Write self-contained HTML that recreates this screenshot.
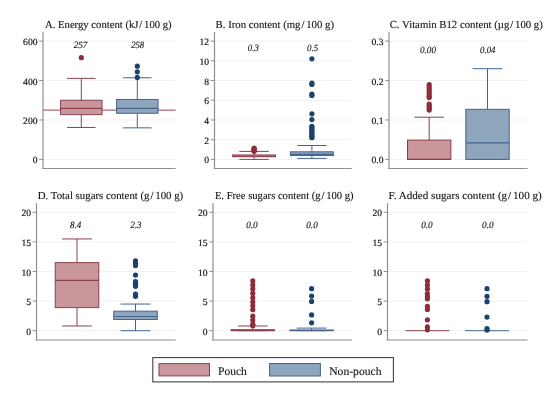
<!DOCTYPE html>
<html><head><meta charset="utf-8"><style>
html,body{margin:0;padding:0;background:#fff;}
svg{display:block;will-change:transform;}
text{text-rendering:geometricPrecision;font-family:"Liberation Serif",serif;fill:#141414;stroke:#141414;stroke-width:0.12px;}
.tt{font-size:10.8px;}
.tk{font-size:9.6px;stroke-width:0.18px;}
.ml{font-size:9.6px;font-style:italic;stroke-width:0.15px;}
.lg{font-size:11.6px;}
</style></head><body>
<svg width="550" height="394" viewBox="0 0 550 394">
<rect width="550" height="394" fill="#fff"/>
<g><line x1="43.5" y1="159.4" x2="175.6" y2="159.4" stroke="#f1f1f1" stroke-width="1"/>
<line x1="43.5" y1="119.97" x2="175.6" y2="119.97" stroke="#f1f1f1" stroke-width="1"/>
<line x1="43.5" y1="80.53" x2="175.6" y2="80.53" stroke="#f1f1f1" stroke-width="1"/>
<line x1="43.5" y1="41.1" x2="175.6" y2="41.1" stroke="#f1f1f1" stroke-width="1"/>
<line x1="43" y1="110.11" x2="175.6" y2="110.11" stroke="#ad6672" stroke-width="1.4"/>
<line x1="81.3" y1="78.36" x2="81.3" y2="100.25" stroke="#8a414f" stroke-width="1"/>
<line x1="81.3" y1="114.64" x2="81.3" y2="127.46" stroke="#8a414f" stroke-width="1"/>
<line x1="67.08" y1="78.36" x2="95.52" y2="78.36" stroke="#8a414f" stroke-width="1"/>
<line x1="67.08" y1="127.46" x2="95.52" y2="127.46" stroke="#8a414f" stroke-width="1"/>
<rect x="60.55" y="100.25" width="41.5" height="14.39" fill="#c9969c" stroke="#8a414f" stroke-width="1"/>
<line x1="60.55" y1="108.33" x2="102.05" y2="108.33" stroke="#8a414f" stroke-width="1.2"/>
<circle cx="81.3" cy="57.66" r="2.6" fill="#8e2d3a"/>
<line x1="137.3" y1="77.77" x2="137.3" y2="99.46" stroke="#46648a" stroke-width="1"/>
<line x1="137.3" y1="113.26" x2="137.3" y2="127.85" stroke="#46648a" stroke-width="1"/>
<line x1="123.08" y1="77.77" x2="151.52" y2="77.77" stroke="#46648a" stroke-width="1"/>
<line x1="123.08" y1="127.85" x2="151.52" y2="127.85" stroke="#46648a" stroke-width="1"/>
<rect x="116.55" y="99.46" width="41.5" height="13.8" fill="#8fa5bd" stroke="#46648a" stroke-width="1"/>
<line x1="116.55" y1="108.33" x2="158.05" y2="108.33" stroke="#46648a" stroke-width="1.2"/>
<circle cx="137.3" cy="77.38" r="2.6" fill="#1c426d"/>
<circle cx="137.3" cy="71.86" r="2.6" fill="#1c426d"/>
<circle cx="137.3" cy="66.14" r="2.6" fill="#1c426d"/>
<line x1="43" y1="32" x2="43" y2="169.1" stroke="#8e8e8e" stroke-width="1.2"/>
<line x1="42.4" y1="168.5" x2="175.6" y2="168.5" stroke="#8e8e8e" stroke-width="1.2"/>
<line x1="39.2" y1="159.4" x2="43" y2="159.4" stroke="#8e8e8e" stroke-width="1"/>
<text x="37.5" y="163.4" text-anchor="end" class="tk">0</text>
<line x1="39.2" y1="119.97" x2="43" y2="119.97" stroke="#8e8e8e" stroke-width="1"/>
<text x="37.5" y="123.97" text-anchor="end" class="tk">200</text>
<line x1="39.2" y1="80.53" x2="43" y2="80.53" stroke="#8e8e8e" stroke-width="1"/>
<text x="37.5" y="84.53" text-anchor="end" class="tk">400</text>
<line x1="39.2" y1="41.1" x2="43" y2="41.1" stroke="#8e8e8e" stroke-width="1"/>
<text x="37.5" y="45.1" text-anchor="end" class="tk">600</text>
<text x="45" y="27.6" textLength="126.6" lengthAdjust="spacingAndGlyphs" class="tt">A. Energy content (kJ / 100 g)</text>
<text x="73.65" y="48.1" textLength="13.7" lengthAdjust="spacingAndGlyphs" class="ml">257</text>
<text x="131.15" y="48.1" textLength="13.1" lengthAdjust="spacingAndGlyphs" class="ml">258</text></g>
<g><line x1="215" y1="159.4" x2="351.7" y2="159.4" stroke="#f1f1f1" stroke-width="1"/>
<line x1="215" y1="139.68" x2="351.7" y2="139.68" stroke="#f1f1f1" stroke-width="1"/>
<line x1="215" y1="119.97" x2="351.7" y2="119.97" stroke="#f1f1f1" stroke-width="1"/>
<line x1="215" y1="100.25" x2="351.7" y2="100.25" stroke="#f1f1f1" stroke-width="1"/>
<line x1="215" y1="80.53" x2="351.7" y2="80.53" stroke="#f1f1f1" stroke-width="1"/>
<line x1="215" y1="60.82" x2="351.7" y2="60.82" stroke="#f1f1f1" stroke-width="1"/>
<line x1="215" y1="41.1" x2="351.7" y2="41.1" stroke="#f1f1f1" stroke-width="1"/>
<line x1="254.1" y1="151.41" x2="254.1" y2="154.96" stroke="#8a414f" stroke-width="1"/>
<line x1="254.1" y1="156.74" x2="254.1" y2="159.4" stroke="#8a414f" stroke-width="1"/>
<line x1="239.39" y1="151.41" x2="268.81" y2="151.41" stroke="#8a414f" stroke-width="1"/>
<line x1="239.39" y1="159.4" x2="268.81" y2="159.4" stroke="#8a414f" stroke-width="1"/>
<rect x="232.63" y="154.96" width="42.94" height="1.77" fill="#c9969c" stroke="#8a414f" stroke-width="1"/>
<line x1="232.63" y1="156.25" x2="275.57" y2="156.25" stroke="#8a414f" stroke-width="1.2"/>
<circle cx="254.1" cy="151.32" r="2.6" fill="#8e2d3a"/>
<circle cx="254.1" cy="150.53" r="2.6" fill="#8e2d3a"/>
<circle cx="254.1" cy="149.54" r="2.6" fill="#8e2d3a"/>
<circle cx="254.1" cy="148.75" r="2.6" fill="#8e2d3a"/>
<circle cx="254.1" cy="148.06" r="2.6" fill="#8e2d3a"/>
<line x1="311.9" y1="145.5" x2="311.9" y2="151.81" stroke="#46648a" stroke-width="1"/>
<line x1="311.9" y1="155.56" x2="311.9" y2="158.41" stroke="#46648a" stroke-width="1"/>
<line x1="297.19" y1="145.5" x2="326.61" y2="145.5" stroke="#46648a" stroke-width="1"/>
<line x1="297.19" y1="158.41" x2="326.61" y2="158.41" stroke="#46648a" stroke-width="1"/>
<rect x="290.43" y="151.81" width="42.94" height="3.75" fill="#8fa5bd" stroke="#46648a" stroke-width="1"/>
<line x1="290.43" y1="154.47" x2="333.37" y2="154.47" stroke="#46648a" stroke-width="1.2"/>
<circle cx="311.9" cy="58.84" r="2.6" fill="#1c426d"/>
<circle cx="311.9" cy="83" r="2.6" fill="#1c426d"/>
<circle cx="311.9" cy="84.48" r="2.6" fill="#1c426d"/>
<circle cx="311.9" cy="94.14" r="2.6" fill="#1c426d"/>
<circle cx="311.9" cy="95.52" r="2.6" fill="#1c426d"/>
<circle cx="311.9" cy="113.85" r="2.6" fill="#1c426d"/>
<circle cx="311.9" cy="119.57" r="2.6" fill="#1c426d"/>
<circle cx="311.9" cy="126.37" r="2.6" fill="#1c426d"/>
<circle cx="311.9" cy="127.85" r="2.6" fill="#1c426d"/>
<circle cx="311.9" cy="129.33" r="2.6" fill="#1c426d"/>
<circle cx="311.9" cy="130.81" r="2.6" fill="#1c426d"/>
<circle cx="311.9" cy="132.29" r="2.6" fill="#1c426d"/>
<circle cx="311.9" cy="133.77" r="2.6" fill="#1c426d"/>
<circle cx="311.9" cy="135.25" r="2.6" fill="#1c426d"/>
<circle cx="311.9" cy="136.73" r="2.6" fill="#1c426d"/>
<circle cx="311.9" cy="137.71" r="2.6" fill="#1c426d"/>
<line x1="214.5" y1="32" x2="214.5" y2="169.1" stroke="#8e8e8e" stroke-width="1.2"/>
<line x1="213.9" y1="168.5" x2="351.7" y2="168.5" stroke="#8e8e8e" stroke-width="1.2"/>
<line x1="210.7" y1="159.4" x2="214.5" y2="159.4" stroke="#8e8e8e" stroke-width="1"/>
<text x="209" y="163.4" text-anchor="end" class="tk">0</text>
<line x1="210.7" y1="139.68" x2="214.5" y2="139.68" stroke="#8e8e8e" stroke-width="1"/>
<text x="209" y="143.68" text-anchor="end" class="tk">2</text>
<line x1="210.7" y1="119.97" x2="214.5" y2="119.97" stroke="#8e8e8e" stroke-width="1"/>
<text x="209" y="123.97" text-anchor="end" class="tk">4</text>
<line x1="210.7" y1="100.25" x2="214.5" y2="100.25" stroke="#8e8e8e" stroke-width="1"/>
<text x="209" y="104.25" text-anchor="end" class="tk">6</text>
<line x1="210.7" y1="80.53" x2="214.5" y2="80.53" stroke="#8e8e8e" stroke-width="1"/>
<text x="209" y="84.53" text-anchor="end" class="tk">8</text>
<line x1="210.7" y1="60.82" x2="214.5" y2="60.82" stroke="#8e8e8e" stroke-width="1"/>
<text x="209" y="64.82" text-anchor="end" class="tk">10</text>
<line x1="210.7" y1="41.1" x2="214.5" y2="41.1" stroke="#8e8e8e" stroke-width="1"/>
<text x="209" y="45.1" text-anchor="end" class="tk">12</text>
<text x="215.6" y="27.5" textLength="118.4" lengthAdjust="spacingAndGlyphs" class="tt">B. Iron content (mg / 100 g)</text>
<text x="247.85" y="50.5" textLength="10.9" lengthAdjust="spacingAndGlyphs" class="ml">0.3</text>
<text x="307.05" y="50.5" textLength="11.1" lengthAdjust="spacingAndGlyphs" class="ml">0.5</text></g>
<g><line x1="389.5" y1="159.4" x2="527.6" y2="159.4" stroke="#f1f1f1" stroke-width="1"/>
<line x1="389.5" y1="119.97" x2="527.6" y2="119.97" stroke="#f1f1f1" stroke-width="1"/>
<line x1="389.5" y1="80.53" x2="527.6" y2="80.53" stroke="#f1f1f1" stroke-width="1"/>
<line x1="389.5" y1="41.1" x2="527.6" y2="41.1" stroke="#f1f1f1" stroke-width="1"/>
<line x1="429.2" y1="117.21" x2="429.2" y2="140.08" stroke="#8a414f" stroke-width="1"/>
<line x1="429.2" y1="159.4" x2="429.2" y2="159.4" stroke="#8a414f" stroke-width="1"/>
<line x1="414.34" y1="117.21" x2="444.06" y2="117.21" stroke="#8a414f" stroke-width="1"/>
<line x1="414.34" y1="159.4" x2="444.06" y2="159.4" stroke="#8a414f" stroke-width="1"/>
<rect x="407.51" y="140.08" width="43.38" height="19.32" fill="#c9969c" stroke="#8a414f" stroke-width="1"/>
<line x1="407.51" y1="159.4" x2="450.89" y2="159.4" stroke="#8a414f" stroke-width="1.2"/>
<circle cx="429.2" cy="84.48" r="2.6" fill="#8e2d3a"/>
<circle cx="429.2" cy="86.84" r="2.6" fill="#8e2d3a"/>
<circle cx="429.2" cy="89.21" r="2.6" fill="#8e2d3a"/>
<circle cx="429.2" cy="91.57" r="2.6" fill="#8e2d3a"/>
<circle cx="429.2" cy="93.94" r="2.6" fill="#8e2d3a"/>
<circle cx="429.2" cy="96.31" r="2.6" fill="#8e2d3a"/>
<circle cx="429.2" cy="97.49" r="2.6" fill="#8e2d3a"/>
<circle cx="429.2" cy="104.19" r="2.6" fill="#8e2d3a"/>
<circle cx="429.2" cy="106.16" r="2.6" fill="#8e2d3a"/>
<circle cx="429.2" cy="108.14" r="2.6" fill="#8e2d3a"/>
<circle cx="429.2" cy="110.11" r="2.6" fill="#8e2d3a"/>
<line x1="487.5" y1="68.7" x2="487.5" y2="109.32" stroke="#46648a" stroke-width="1"/>
<line x1="487.5" y1="159.4" x2="487.5" y2="159.4" stroke="#46648a" stroke-width="1"/>
<line x1="472.64" y1="68.7" x2="502.36" y2="68.7" stroke="#46648a" stroke-width="1"/>
<line x1="472.64" y1="159.4" x2="502.36" y2="159.4" stroke="#46648a" stroke-width="1"/>
<rect x="465.81" y="109.32" width="43.38" height="50.08" fill="#8fa5bd" stroke="#46648a" stroke-width="1"/>
<line x1="465.81" y1="142.84" x2="509.19" y2="142.84" stroke="#46648a" stroke-width="1.2"/>
<line x1="389" y1="32" x2="389" y2="169.1" stroke="#8e8e8e" stroke-width="1.2"/>
<line x1="388.4" y1="168.5" x2="527.6" y2="168.5" stroke="#8e8e8e" stroke-width="1.2"/>
<line x1="385.2" y1="159.4" x2="389" y2="159.4" stroke="#8e8e8e" stroke-width="1"/>
<text x="383.5" y="163.4" text-anchor="end" class="tk">0.0</text>
<line x1="385.2" y1="119.97" x2="389" y2="119.97" stroke="#8e8e8e" stroke-width="1"/>
<text x="383.5" y="123.97" text-anchor="end" class="tk">0.1</text>
<line x1="385.2" y1="80.53" x2="389" y2="80.53" stroke="#8e8e8e" stroke-width="1"/>
<text x="383.5" y="84.53" text-anchor="end" class="tk">0.2</text>
<line x1="385.2" y1="41.1" x2="389" y2="41.1" stroke="#8e8e8e" stroke-width="1"/>
<text x="383.5" y="45.1" text-anchor="end" class="tk">0.3</text>
<text x="389.7" y="27.6" textLength="153.1" lengthAdjust="spacingAndGlyphs" class="tt">C. Vitamin B12 content (µg / 100 g)</text>
<text x="419.95" y="53.1" textLength="16.1" lengthAdjust="spacingAndGlyphs" class="ml">0.00</text>
<text x="480.1" y="53.1" textLength="15.4" lengthAdjust="spacingAndGlyphs" class="ml">0.04</text></g>
<g><line x1="37" y1="330.7" x2="175.7" y2="330.7" stroke="#f1f1f1" stroke-width="1"/>
<line x1="37" y1="301.1" x2="175.7" y2="301.1" stroke="#f1f1f1" stroke-width="1"/>
<line x1="37" y1="271.5" x2="175.7" y2="271.5" stroke="#f1f1f1" stroke-width="1"/>
<line x1="37" y1="241.9" x2="175.7" y2="241.9" stroke="#f1f1f1" stroke-width="1"/>
<line x1="37" y1="212.3" x2="175.7" y2="212.3" stroke="#f1f1f1" stroke-width="1"/>
<line x1="77" y1="238.94" x2="77" y2="262.62" stroke="#8a414f" stroke-width="1"/>
<line x1="77" y1="307.61" x2="77" y2="325.96" stroke="#8a414f" stroke-width="1"/>
<line x1="62.08" y1="238.94" x2="91.92" y2="238.94" stroke="#8a414f" stroke-width="1"/>
<line x1="62.08" y1="325.96" x2="91.92" y2="325.96" stroke="#8a414f" stroke-width="1"/>
<rect x="55.22" y="262.62" width="43.57" height="44.99" fill="#c9969c" stroke="#8a414f" stroke-width="1"/>
<line x1="55.22" y1="280.38" x2="98.78" y2="280.38" stroke="#8a414f" stroke-width="1.2"/>
<line x1="135.5" y1="304.06" x2="135.5" y2="311.16" stroke="#46648a" stroke-width="1"/>
<line x1="135.5" y1="319.45" x2="135.5" y2="330.7" stroke="#46648a" stroke-width="1"/>
<line x1="120.58" y1="304.06" x2="150.42" y2="304.06" stroke="#46648a" stroke-width="1"/>
<line x1="120.58" y1="330.7" x2="150.42" y2="330.7" stroke="#46648a" stroke-width="1"/>
<rect x="113.72" y="311.16" width="43.57" height="8.29" fill="#8fa5bd" stroke="#46648a" stroke-width="1"/>
<line x1="113.72" y1="316.49" x2="157.28" y2="316.49" stroke="#46648a" stroke-width="1.2"/>
<circle cx="135.5" cy="260.84" r="2.6" fill="#1c426d"/>
<circle cx="135.5" cy="263.21" r="2.6" fill="#1c426d"/>
<circle cx="135.5" cy="265.58" r="2.6" fill="#1c426d"/>
<circle cx="135.5" cy="275.05" r="2.6" fill="#1c426d"/>
<circle cx="135.5" cy="281.56" r="2.6" fill="#1c426d"/>
<circle cx="135.5" cy="283.34" r="2.6" fill="#1c426d"/>
<circle cx="135.5" cy="284.82" r="2.6" fill="#1c426d"/>
<circle cx="135.5" cy="286.3" r="2.6" fill="#1c426d"/>
<circle cx="135.5" cy="294" r="2.6" fill="#1c426d"/>
<circle cx="135.5" cy="296.36" r="2.6" fill="#1c426d"/>
<line x1="36.5" y1="203.2" x2="36.5" y2="340.6" stroke="#8e8e8e" stroke-width="1.2"/>
<line x1="35.9" y1="340" x2="175.7" y2="340" stroke="#8e8e8e" stroke-width="1.2"/>
<line x1="32.7" y1="330.7" x2="36.5" y2="330.7" stroke="#8e8e8e" stroke-width="1"/>
<text x="31" y="334.7" text-anchor="end" class="tk">0</text>
<line x1="32.7" y1="301.1" x2="36.5" y2="301.1" stroke="#8e8e8e" stroke-width="1"/>
<text x="31" y="305.1" text-anchor="end" class="tk">5</text>
<line x1="32.7" y1="271.5" x2="36.5" y2="271.5" stroke="#8e8e8e" stroke-width="1"/>
<text x="31" y="275.5" text-anchor="end" class="tk">10</text>
<line x1="32.7" y1="241.9" x2="36.5" y2="241.9" stroke="#8e8e8e" stroke-width="1"/>
<text x="31" y="245.9" text-anchor="end" class="tk">15</text>
<line x1="32.7" y1="212.3" x2="36.5" y2="212.3" stroke="#8e8e8e" stroke-width="1"/>
<text x="31" y="216.3" text-anchor="end" class="tk">20</text>
<text x="37.8" y="198.8" textLength="145.4" lengthAdjust="spacingAndGlyphs" class="tt">D. Total sugars content (g / 100 g)</text>
<text x="70.1" y="228.4" textLength="11.2" lengthAdjust="spacingAndGlyphs" class="ml">8.4</text>
<text x="130.45" y="228.4" textLength="11.1" lengthAdjust="spacingAndGlyphs" class="ml">2.3</text></g>
<g><line x1="213.5" y1="330.7" x2="351.8" y2="330.7" stroke="#f1f1f1" stroke-width="1"/>
<line x1="213.5" y1="301.1" x2="351.8" y2="301.1" stroke="#f1f1f1" stroke-width="1"/>
<line x1="213.5" y1="271.5" x2="351.8" y2="271.5" stroke="#f1f1f1" stroke-width="1"/>
<line x1="213.5" y1="241.9" x2="351.8" y2="241.9" stroke="#f1f1f1" stroke-width="1"/>
<line x1="213.5" y1="212.3" x2="351.8" y2="212.3" stroke="#f1f1f1" stroke-width="1"/>
<line x1="252.8" y1="325.96" x2="252.8" y2="329.81" stroke="#8a414f" stroke-width="1"/>
<line x1="252.8" y1="330.7" x2="252.8" y2="330.7" stroke="#8a414f" stroke-width="1"/>
<line x1="237.92" y1="325.96" x2="267.68" y2="325.96" stroke="#8a414f" stroke-width="1"/>
<line x1="237.92" y1="330.7" x2="267.68" y2="330.7" stroke="#8a414f" stroke-width="1"/>
<rect x="231.08" y="329.81" width="43.44" height="0.89" fill="#c9969c" stroke="#8a414f" stroke-width="1"/>
<line x1="231.08" y1="330.11" x2="274.52" y2="330.11" stroke="#8a414f" stroke-width="1.2"/>
<circle cx="252.8" cy="280.97" r="2.6" fill="#8e2d3a"/>
<circle cx="252.8" cy="285.12" r="2.6" fill="#8e2d3a"/>
<circle cx="252.8" cy="288.96" r="2.6" fill="#8e2d3a"/>
<circle cx="252.8" cy="293.4" r="2.6" fill="#8e2d3a"/>
<circle cx="252.8" cy="297.84" r="2.6" fill="#8e2d3a"/>
<circle cx="252.8" cy="301.99" r="2.6" fill="#8e2d3a"/>
<circle cx="252.8" cy="305.84" r="2.6" fill="#8e2d3a"/>
<circle cx="252.8" cy="309.68" r="2.6" fill="#8e2d3a"/>
<circle cx="252.8" cy="316.2" r="2.6" fill="#8e2d3a"/>
<circle cx="252.8" cy="320.04" r="2.6" fill="#8e2d3a"/>
<circle cx="252.8" cy="324.19" r="2.6" fill="#8e2d3a"/>
<circle cx="252.8" cy="325.67" r="2.6" fill="#8e2d3a"/>
<line x1="311.6" y1="328.1" x2="311.6" y2="330.11" stroke="#46648a" stroke-width="1"/>
<line x1="311.6" y1="330.7" x2="311.6" y2="330.7" stroke="#46648a" stroke-width="1"/>
<line x1="296.72" y1="328.1" x2="326.48" y2="328.1" stroke="#46648a" stroke-width="1"/>
<line x1="296.72" y1="330.7" x2="326.48" y2="330.7" stroke="#46648a" stroke-width="1"/>
<rect x="289.88" y="330.11" width="43.44" height="0.59" fill="#8fa5bd" stroke="#46648a" stroke-width="1"/>
<line x1="289.88" y1="330.4" x2="333.32" y2="330.4" stroke="#46648a" stroke-width="1.2"/>
<circle cx="311.6" cy="288.67" r="2.6" fill="#1c426d"/>
<circle cx="311.6" cy="296.07" r="2.6" fill="#1c426d"/>
<circle cx="311.6" cy="301.4" r="2.6" fill="#1c426d"/>
<circle cx="311.6" cy="314.89" r="2.6" fill="#1c426d"/>
<circle cx="311.6" cy="322.83" r="2.6" fill="#1c426d"/>
<line x1="213" y1="203.2" x2="213" y2="340.6" stroke="#8e8e8e" stroke-width="1.2"/>
<line x1="212.4" y1="340" x2="351.8" y2="340" stroke="#8e8e8e" stroke-width="1.2"/>
<line x1="209.2" y1="330.7" x2="213" y2="330.7" stroke="#8e8e8e" stroke-width="1"/>
<text x="207.5" y="334.7" text-anchor="end" class="tk">0</text>
<line x1="209.2" y1="301.1" x2="213" y2="301.1" stroke="#8e8e8e" stroke-width="1"/>
<text x="207.5" y="305.1" text-anchor="end" class="tk">5</text>
<line x1="209.2" y1="271.5" x2="213" y2="271.5" stroke="#8e8e8e" stroke-width="1"/>
<text x="207.5" y="275.5" text-anchor="end" class="tk">10</text>
<line x1="209.2" y1="241.9" x2="213" y2="241.9" stroke="#8e8e8e" stroke-width="1"/>
<text x="207.5" y="245.9" text-anchor="end" class="tk">15</text>
<line x1="209.2" y1="212.3" x2="213" y2="212.3" stroke="#8e8e8e" stroke-width="1"/>
<text x="207.5" y="216.3" text-anchor="end" class="tk">20</text>
<text x="214.9" y="198.7" textLength="138.7" lengthAdjust="spacingAndGlyphs" class="tt">E. Free sugars content (g / 100 g)</text>
<text x="246.15" y="228.1" textLength="11.5" lengthAdjust="spacingAndGlyphs" class="ml">0.0</text>
<text x="306.25" y="228.1" textLength="11.5" lengthAdjust="spacingAndGlyphs" class="ml">0.0</text></g>
<g><line x1="388" y1="330.7" x2="527.6" y2="330.7" stroke="#f1f1f1" stroke-width="1"/>
<line x1="388" y1="301.1" x2="527.6" y2="301.1" stroke="#f1f1f1" stroke-width="1"/>
<line x1="388" y1="271.5" x2="527.6" y2="271.5" stroke="#f1f1f1" stroke-width="1"/>
<line x1="388" y1="241.9" x2="527.6" y2="241.9" stroke="#f1f1f1" stroke-width="1"/>
<line x1="388" y1="212.3" x2="527.6" y2="212.3" stroke="#f1f1f1" stroke-width="1"/>
<line x1="405.47" y1="330.7" x2="449.33" y2="330.7" stroke="#8a414f" stroke-width="1"/>
<circle cx="427.4" cy="280.97" r="2.6" fill="#8e2d3a"/>
<circle cx="427.4" cy="285.12" r="2.6" fill="#8e2d3a"/>
<circle cx="427.4" cy="288.9" r="2.6" fill="#8e2d3a"/>
<circle cx="427.4" cy="293.52" r="2.6" fill="#8e2d3a"/>
<circle cx="427.4" cy="296.36" r="2.6" fill="#8e2d3a"/>
<circle cx="427.4" cy="298.79" r="2.6" fill="#8e2d3a"/>
<circle cx="427.4" cy="306.43" r="2.6" fill="#8e2d3a"/>
<circle cx="427.4" cy="309.39" r="2.6" fill="#8e2d3a"/>
<circle cx="427.4" cy="319.87" r="2.6" fill="#8e2d3a"/>
<circle cx="427.4" cy="326.79" r="2.6" fill="#8e2d3a"/>
<circle cx="427.4" cy="329.81" r="2.6" fill="#8e2d3a"/>
<line x1="465.07" y1="330.7" x2="508.93" y2="330.7" stroke="#46648a" stroke-width="1"/>
<circle cx="487" cy="288.67" r="2.6" fill="#1c426d"/>
<circle cx="487" cy="296.36" r="2.6" fill="#1c426d"/>
<circle cx="487" cy="301.69" r="2.6" fill="#1c426d"/>
<circle cx="487" cy="317.08" r="2.6" fill="#1c426d"/>
<circle cx="487" cy="328.63" r="2.6" fill="#1c426d"/>
<circle cx="487" cy="330.11" r="2.6" fill="#1c426d"/>
<line x1="387.5" y1="203.2" x2="387.5" y2="340.6" stroke="#8e8e8e" stroke-width="1.2"/>
<line x1="386.9" y1="340" x2="527.6" y2="340" stroke="#8e8e8e" stroke-width="1.2"/>
<line x1="383.7" y1="330.7" x2="387.5" y2="330.7" stroke="#8e8e8e" stroke-width="1"/>
<text x="382" y="334.7" text-anchor="end" class="tk">0</text>
<line x1="383.7" y1="301.1" x2="387.5" y2="301.1" stroke="#8e8e8e" stroke-width="1"/>
<text x="382" y="305.1" text-anchor="end" class="tk">5</text>
<line x1="383.7" y1="271.5" x2="387.5" y2="271.5" stroke="#8e8e8e" stroke-width="1"/>
<text x="382" y="275.5" text-anchor="end" class="tk">10</text>
<line x1="383.7" y1="241.9" x2="387.5" y2="241.9" stroke="#8e8e8e" stroke-width="1"/>
<text x="382" y="245.9" text-anchor="end" class="tk">15</text>
<line x1="383.7" y1="212.3" x2="387.5" y2="212.3" stroke="#8e8e8e" stroke-width="1"/>
<text x="382" y="216.3" text-anchor="end" class="tk">20</text>
<text x="388.4" y="198.7" textLength="153.4" lengthAdjust="spacingAndGlyphs" class="tt">F. Added sugars content (g / 100 g)</text>
<text x="421.15" y="228.1" textLength="11.5" lengthAdjust="spacingAndGlyphs" class="ml">0.0</text>
<text x="482.05" y="228.1" textLength="11.5" lengthAdjust="spacingAndGlyphs" class="ml">0.0</text></g>
<g>
<rect x="152.8" y="357.6" width="240.6" height="24.3" fill="#fff" stroke="#3a3a3a" stroke-width="1.05"/>
<rect x="159" y="363.6" width="50.5" height="12.3" fill="#c9969c" stroke="#8a414f" stroke-width="1"/>
<text x="218" y="374.5" textLength="28.9" lengthAdjust="spacingAndGlyphs" class="lg">Pouch</text>
<rect x="269.6" y="363.5" width="50.8" height="12.5" fill="#8fa5bd" stroke="#46648a" stroke-width="1"/>
<text x="329.2" y="374.5" textLength="52.4" lengthAdjust="spacingAndGlyphs" class="lg">Non-pouch</text>
</g>
</svg>
</body></html>
